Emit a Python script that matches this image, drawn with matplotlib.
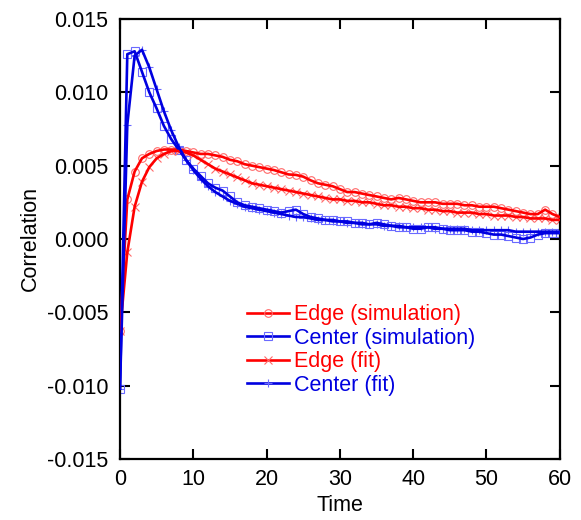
import numpy as np
import matplotlib
matplotlib.use("Agg")
import matplotlib.pyplot as plt

plt.rcParams['font.family'] = ['Liberation Sans', 'DejaVu Sans']
plt.rcParams['axes.unicode_minus'] = False

# time axis, one sample per unit
t = np.arange(0, 61)

edge_sim = [-0.0063, 0.0027, 0.0046, 0.0055, 0.0058, 0.0060, 0.0061, 0.0061, 0.0061, 0.0060,
            0.0059, 0.0058, 0.0058, 0.0057, 0.0056, 0.0054, 0.0053, 0.0051, 0.0050, 0.0049,
            0.0048, 0.0047, 0.00455, 0.0044, 0.00437, 0.00425, 0.0040, 0.0038, 0.0037, 0.0036,
            0.0034, 0.0032, 0.0032, 0.0031, 0.0030, 0.0029, 0.0028, 0.0027, 0.0028, 0.0027,
            0.0026, 0.0025, 0.0025, 0.0025, 0.0024, 0.0024, 0.0024, 0.0023, 0.0023, 0.0022,
            0.0022, 0.0022, 0.0021, 0.0020, 0.0019, 0.0018, 0.0017, 0.0017, 0.0020, 0.0017,
            0.0015]

center_sim = [-0.0102, 0.0126, 0.0128, 0.0114, 0.0100, 0.0089, 0.0077, 0.0068, 0.0061, 0.0054,
              0.0048, 0.0043, 0.0038, 0.0035, 0.0033, 0.0029, 0.0025, 0.0023, 0.0022, 0.0021,
              0.0020, 0.0019, 0.0018, 0.0019, 0.0020, 0.0017, 0.0015, 0.0014, 0.0013, 0.0013,
              0.0012, 0.0012, 0.0011, 0.0011, 0.0010, 0.0011, 0.0010, 0.0009, 0.0008, 0.0008,
              0.0007, 0.0007, 0.0008, 0.0008, 0.0007, 0.0006, 0.0006, 0.0006, 0.0005, 0.0005,
              0.0004, 0.0003, 0.0003, 0.0002, 0.0001, 0.0000, 0.0001, 0.0003, 0.0004, 0.0004,
              0.0004]

edge_fit = [-0.0063, -0.0009, 0.0022, 0.0039, 0.0049, 0.0055, 0.0058, 0.0060, 0.0060, 0.0059,
            0.0057, 0.0054, 0.0051, 0.0048, 0.0046, 0.0044, 0.0042, 0.0040, 0.0038, 0.0037,
            0.0036, 0.0035, 0.0034, 0.0033, 0.0032, 0.0031, 0.0030, 0.0029, 0.0028, 0.0027,
            0.0027, 0.0026, 0.0026, 0.0025, 0.0025, 0.0024, 0.0023, 0.0023, 0.0022, 0.0022,
            0.0021, 0.0021, 0.0020, 0.0020, 0.0019, 0.0019, 0.0018, 0.0018, 0.0018, 0.0017,
            0.0017, 0.0016, 0.0016, 0.0016, 0.0015, 0.0015, 0.0014, 0.0014, 0.0014, 0.0013,
            0.0013]

center_fit = [-0.0102, 0.0078, 0.0125, 0.0129, 0.0117, 0.0102, 0.0087, 0.0074, 0.0063, 0.0054,
              0.0047, 0.0041, 0.0036, 0.0032, 0.0029, 0.0026, 0.0024, 0.0022, 0.0021, 0.0020,
              0.0019, 0.0018, 0.0017, 0.0016, 0.0015, 0.0015, 0.0014, 0.0013, 0.0013, 0.0012,
              0.0012, 0.0011, 0.0011, 0.0010, 0.0010, 0.0010, 0.0009, 0.0009, 0.0009, 0.0008,
              0.0008, 0.0008, 0.0008, 0.0007, 0.0007, 0.0007, 0.0007, 0.0007, 0.0006, 0.0006,
              0.0006, 0.0006, 0.0006, 0.0006, 0.0005, 0.0005, 0.0005, 0.0005, 0.0005, 0.0005,
              0.0005]

labels = ['Edge (simulation)', 'Center (simulation)', 'Edge (fit)', 'Center (fit)']

RED = '#ff0000'
BLUE = '#0000e0'
RED_M = '#ff6a6a'
BLUE_M = '#6a6aff'

fig = plt.figure(figsize=(5.81, 5.2), dpi=100)
ax = fig.add_axes([0.2065, 0.1173, 0.757, 0.8462])

series = [(edge_sim, RED, RED_M, 'o'),
          (center_sim, BLUE, BLUE_M, 's'),
          (edge_fit, RED, RED_M, 'x'),
          (center_fit, BLUE, BLUE_M, '+')]

handles = []
for ys, c, mc, m in series:
    mk, = ax.plot(t, ys, linestyle='none', marker=m, markersize=5.5,
                  markerfacecolor='none', markeredgecolor=mc, markeredgewidth=0.8, zorder=2)
    ln, = ax.plot(t, ys, color=c, linewidth=1.9, zorder=3)
    handles.append((ln, mk))

ax.set_xlim(0, 60)
ax.set_ylim(-0.015, 0.015)
ax.set_xticks(np.arange(0, 61, 10))
ax.set_yticks(np.arange(-0.015, 0.0151, 0.005))
ax.yaxis.set_major_formatter(matplotlib.ticker.FormatStrFormatter('%.3f'))
ax.tick_params(direction='in', length=7, width=1.5, top=True, right=True,
               labelsize=15.5)
ax.tick_params(axis='y', pad=8.5)
ax.tick_params(axis='x', pad=7.5)
for s in ax.spines.values():
    s.set_linewidth(1.6)

ax.set_xlabel('Time', fontsize=15.5, labelpad=3)
ax.set_ylabel('Correlation', fontsize=15.5, labelpad=4)

leg = ax.legend(handles, labels, loc='upper left', bbox_to_anchor=(0.288, 0.352),
                frameon=False, fontsize=15.5, handlelength=1.95, handletextpad=0.25,
                labelspacing=0.12, borderpad=0, borderaxespad=0, numpoints=1)
for txt, (_, c, _, _) in zip(leg.get_texts(), series):
    txt.set_color(c)

plt.savefig('out.png', dpi=100)
